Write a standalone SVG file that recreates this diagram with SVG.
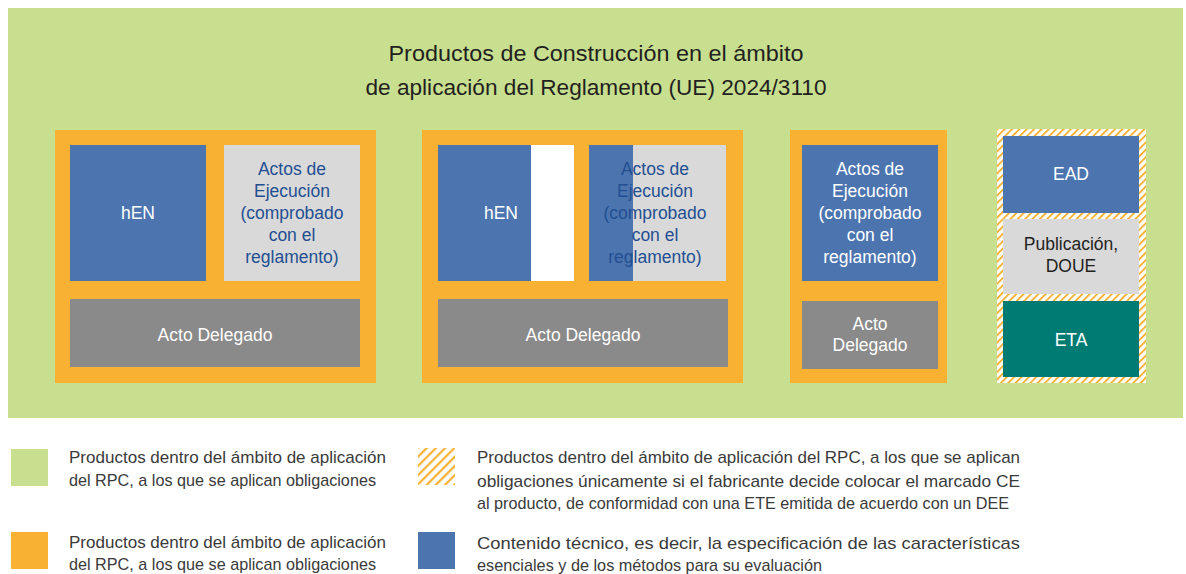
<svg xmlns="http://www.w3.org/2000/svg" width="1186" height="574" viewBox="0 0 1186 574">
<defs>
<pattern id="hatch" patternUnits="userSpaceOnUse" width="5.2" height="5.2" patternTransform="rotate(45)">
<rect width="5.2" height="5.2" fill="#ffffff"/>
<rect width="1.9" height="5.2" fill="#f8b133"/>
</pattern>
<pattern id="hatchL" patternUnits="userSpaceOnUse" width="6.5" height="6.5" patternTransform="rotate(45)">
<rect width="6.5" height="6.5" fill="#ffffff"/>
<rect width="2.2" height="6.5" fill="#f8b133"/>
</pattern>
<style>
.title{font-family:"Liberation Sans",Arial,sans-serif;font-size:22px;fill:#231f20;text-anchor:middle}
.lbl{font-family:"Liberation Sans",Arial,sans-serif;font-size:17.5px;text-anchor:middle}
.w{fill:#ffffff}
.db{fill:#234f92}
.dk{fill:#231f20}
.leg{font-family:"Liberation Sans Narrow","Liberation Sans",Arial,sans-serif;font-size:17px;fill:#3a3a3a}
.green{fill:#c9df90}
.orange{fill:#f8b133}
.blue{fill:#4c75b0}
.lgray{fill:#d9d9d9}
.mgray{fill:#8a8a8a}
.teal{fill:#007b73}
</style>
</defs>
<rect width="1186" height="574" fill="#ffffff"/>
<g id="scope">
<rect class="green" x="8" y="8" width="1175" height="410"/>
<text class="title" x="596" y="61" textLength="415" lengthAdjust="spacingAndGlyphs">Productos de Construcción en el ámbito</text>
<text class="title" x="596" y="95" textLength="461" lengthAdjust="spacingAndGlyphs">de aplicación del Reglamento (UE) 2024/3110</text>
</g>
<g id="group1">
<rect class="orange" x="55" y="130" width="321" height="253"/>
<rect class="blue" x="70" y="145" width="136" height="136"/>
<text class="lbl w" x="138" y="219">hEN</text>
<rect class="lgray" x="224" y="145" width="136" height="136"/>
<text class="lbl db" x="292" y="175">Actos de</text>
<text class="lbl db" x="292" y="197">Ejecución</text>
<text class="lbl db" x="292" y="219">(comprobado</text>
<text class="lbl db" x="292" y="241">con el</text>
<text class="lbl db" x="292" y="263">reglamento)</text>
<rect class="mgray" x="70" y="299" width="290" height="68"/>
<text class="lbl w" x="215" y="341">Acto Delegado</text>
</g>
<g id="group2">
<rect class="orange" x="422" y="130" width="321" height="253"/>
<rect class="blue" x="438" y="145" width="93" height="136"/>
<rect x="531" y="145" width="43" height="136" fill="#ffffff"/>
<text class="lbl w" x="501" y="219">hEN</text>
<rect class="lgray" x="589" y="145" width="137" height="136"/>
<rect class="blue" x="589" y="145" width="44" height="136"/>
<text class="lbl db" x="655" y="175">Actos de</text>
<text class="lbl db" x="655" y="197">Ejecución</text>
<text class="lbl db" x="655" y="219">(comprobado</text>
<text class="lbl db" x="655" y="241">con el</text>
<text class="lbl db" x="655" y="263">reglamento)</text>
<rect class="mgray" x="438" y="299" width="290" height="68"/>
<text class="lbl w" x="583" y="341">Acto Delegado</text>
</g>
<g id="group3">
<rect class="orange" x="790" y="130" width="157" height="253"/>
<rect class="blue" x="802" y="145" width="136" height="136"/>
<text class="lbl w" x="870" y="175">Actos de</text>
<text class="lbl w" x="870" y="197">Ejecución</text>
<text class="lbl w" x="870" y="219">(comprobado</text>
<text class="lbl w" x="870" y="241">con el</text>
<text class="lbl w" x="870" y="263">reglamento)</text>
<rect class="mgray" x="802" y="301" width="136" height="68"/>
<text class="lbl w" x="870" y="330">Acto</text>
<text class="lbl w" x="870" y="351">Delegado</text>
</g>
<g id="group4">
<rect fill="url(#hatch)" x="997" y="129" width="149" height="254"/>
<rect class="blue" x="1003" y="136" width="136" height="77"/>
<text class="lbl w" x="1071" y="180">EAD</text>
<rect class="lgray" x="1003" y="219" width="136" height="75"/>
<text class="lbl dk" x="1071" y="250">Publicación,</text>
<text class="lbl dk" x="1071" y="272">DOUE</text>
<rect class="teal" x="1003" y="301" width="136" height="76"/>
<text class="lbl w" x="1071" y="346">ETA</text>
</g>
<g id="legend">
<rect class="green" x="11" y="449" width="37" height="37"/>
<text class="leg" x="69" y="463" textLength="317" lengthAdjust="spacingAndGlyphs">Productos dentro del ámbito de aplicación</text>
<text class="leg" x="69" y="486" textLength="307" lengthAdjust="spacingAndGlyphs">del RPC, a los que se aplican obligaciones</text>
<rect class="orange" x="11" y="532" width="37" height="37"/>
<text class="leg" x="69" y="548" textLength="317" lengthAdjust="spacingAndGlyphs">Productos dentro del ámbito de aplicación</text>
<text class="leg" x="69" y="570" textLength="307" lengthAdjust="spacingAndGlyphs">del RPC, a los que se aplican obligaciones</text>
<rect fill="url(#hatchL)" x="418" y="448" width="37" height="37"/>
<text class="leg" x="477" y="463" textLength="543" lengthAdjust="spacingAndGlyphs">Productos dentro del ámbito de aplicación del RPC, a los que se aplican</text>
<text class="leg" x="477" y="487" textLength="543" lengthAdjust="spacingAndGlyphs">obligaciones únicamente si el fabricante decide colocar el marcado CE</text>
<text class="leg" x="477" y="509" textLength="532" lengthAdjust="spacingAndGlyphs">al producto, de conformidad con una ETE emitida de acuerdo con un DEE</text>
<rect class="blue" x="418" y="532" width="37" height="37"/>
<text class="leg" x="477" y="549" textLength="543" lengthAdjust="spacingAndGlyphs">Contenido técnico, es decir, la especificación de las características</text>
<text class="leg" x="477" y="571" textLength="345" lengthAdjust="spacingAndGlyphs">esenciales y de los métodos para su evaluación</text>
</g>
</svg>
